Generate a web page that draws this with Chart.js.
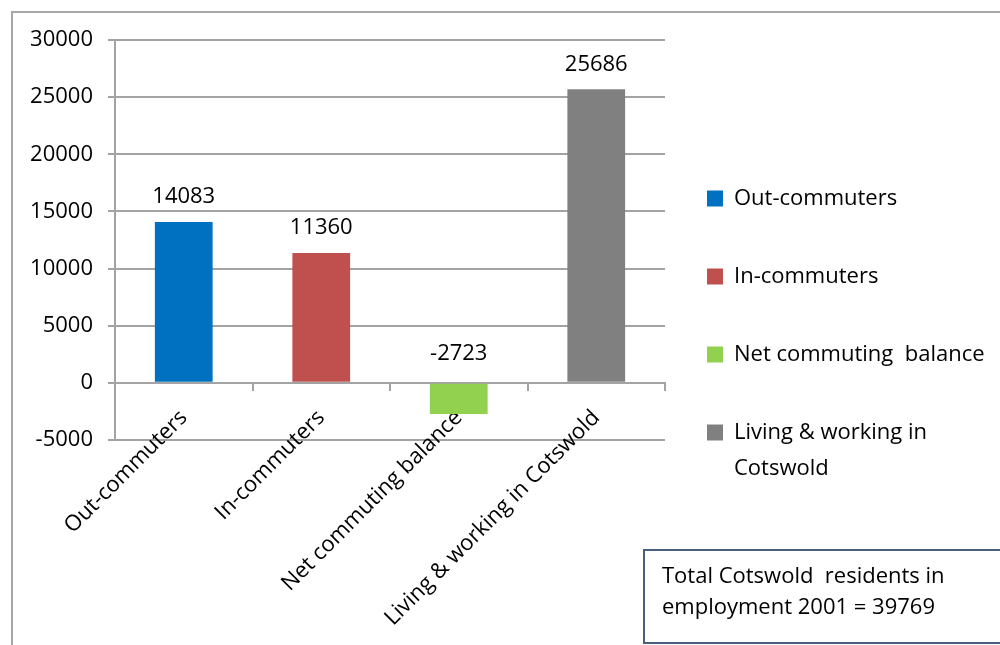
<!DOCTYPE html>
<html>
<head>
<meta charset="utf-8">
<script src="https://cdn.jsdelivr.net/npm/chart.js@4.4.1/dist/chart.umd.min.js"></script>
<style>
  html, body { margin: 0; padding: 0; background: #ffffff; }
  #wrap { width: 1000px; height: 645px; position: relative; }
</style>
</head>
<body>
<div id="wrap"><canvas id="c" width="1000" height="645"></canvas></div>
<script>
// ---- data ----
const categories = ['Out-commuters', 'In-commuters', 'Net commuting balance', 'Living & working in Cotswold'];
const legendLines = [['Out-commuters'], ['In-commuters'], ['Net commuting  balance'], ['Living & working in', 'Cotswold']];
const values = [14083, 11360, -2723, 25686];
const colors = ['#0070C0', '#C0504D', '#92D050', '#808080'];
const yMin = -5000;
const yMax = 30000;
const yStep = 5000;
const noteLines = ['Total Cotswold  residents in', 'employment 2001 = 39769'];

const FONT = '"Open Sans", "Liberation Sans", sans-serif';
const GRID = '#a3a3a3';
const LEG_PAD = 42;
const LEG_BOX = 16;
const LEG_FONT = 22;
const LEG_LEFT = 665; // where the legend box (and the plot area) should start/end

// Measure the widest legend line so the legend lands where the reference has it
const mctx = document.createElement('canvas').getContext('2d');
mctx.font = 'normal ' + LEG_FONT + 'px ' + FONT;
let maxTextW = 0;
legendLines.forEach(lines => lines.forEach(t => { maxTextW = Math.max(maxTextW, mctx.measureText(t).width); }));
const legendWidth = Math.ceil(LEG_PAD + LEG_BOX + LEG_FONT / 2 + maxTextW) + 2;
const rightPad = Math.max(0, 1000 - LEG_LEFT - legendWidth);

const datasets = categories.map((c, i) => ({
  label: legendLines[i].join(' '),
  data: categories.map((_, j) => (j === i ? values[i] : null)),
  backgroundColor: colors[i],
  borderWidth: 0,
  grouped: false,
  barPercentage: 0.42,
  categoryPercentage: 1.0
}));

const framePlugin = {
  id: 'frame',
  beforeDraw(chart) {
    const ctx = chart.ctx;
    ctx.save();
    ctx.strokeStyle = '#a6a6a6';
    ctx.lineWidth = 2;
    ctx.beginPath();
    ctx.moveTo(12, 645);
    ctx.lineTo(12, 12);
    ctx.lineTo(1000, 12);
    ctx.stroke();
    ctx.restore();
  },
  afterDraw(chart) {
    const ctx = chart.ctx;
    ctx.save();
    ctx.strokeStyle = '#4a5f80';
    ctx.lineWidth = 2;
    ctx.strokeRect(644, 550, 400, 93);
    ctx.fillStyle = '#000';
    ctx.font = '22px ' + FONT;
    ctx.textAlign = 'left';
    ctx.textBaseline = 'middle';
    noteLines.forEach((t, k) => ctx.fillText(t, 662, 577 + k * 31));
    ctx.restore();
  }
};

const valueLabels = {
  id: 'valueLabels',
  afterDatasetsDraw(chart) {
    const ctx = chart.ctx;
    ctx.save();
    ctx.font = '22px ' + FONT;
    ctx.fillStyle = '#000';
    ctx.textAlign = 'center';
    ctx.textBaseline = 'middle';
    chart.data.datasets.forEach((ds, i) => {
      const meta = chart.getDatasetMeta(i);
      meta.data.forEach((el, j) => {
        const v = ds.data[j];
        if (v === null || v === undefined) return;
        const top = Math.min(el.y, el.base);
        ctx.fillText(String(v), el.x, top - (v < 0 ? 30 : 25));
      });
    });
    ctx.restore();
  }
};

new Chart(document.getElementById('c'), {
  type: 'bar',
  data: { labels: categories, datasets },
  options: {
    responsive: false,
    animation: false,
    devicePixelRatio: 1,
    layout: { padding: { top: 40, bottom: 4, left: 0, right: rightPad } },
    plugins: {
      tooltip: { enabled: false },
      legend: {
        position: 'right',
        align: 'center',
        maxWidth: legendWidth,
        labels: {
          color: '#000',
          font: { family: FONT, size: LEG_FONT, lineHeight: '36px' },
          boxWidth: LEG_BOX,
          boxHeight: LEG_BOX,
          padding: LEG_PAD,
          generateLabels(chart) {
            return chart.data.datasets.map((ds, i) => ({
              text: legendLines[i],
              fillStyle: ds.backgroundColor,
              strokeStyle: ds.backgroundColor,
              lineWidth: 0,
              hidden: false,
              datasetIndex: i,
              fontColor: '#000'
            }));
          }
        }
      }
    },
    scales: {
      x: {
        position: { y: 0 },
        offset: true,
        grid: { display: true, drawOnChartArea: false, drawTicks: true, tickLength: 7, color: GRID, lineWidth: 2, offset: true },
        border: { display: true, color: GRID, width: 2 },
        ticks: { color: '#000', font: { family: FONT, size: 22 }, minRotation: 45, maxRotation: 45, padding: 15, autoSkip: false }
      },
      xPad: {
        type: 'category',
        position: 'bottom',
        labels: categories,
        grid: { display: false },
        border: { display: false },
        ticks: { display: false },
        afterFit(s) { s.height = 201; }
      },
      y: {
        min: yMin,
        max: yMax,
        grid: { color: GRID, lineWidth: 2, tickLength: 7, drawTicks: true },
        border: { display: true, color: GRID, width: 2 },
        ticks: { stepSize: yStep, color: '#000', font: { family: FONT, size: 22 }, padding: 15, callback: v => String(v) },
        afterFit(s) { s.width = 115; }
      }
    }
  },
  plugins: [framePlugin, valueLabels]
});
</script>
</body>
</html>
